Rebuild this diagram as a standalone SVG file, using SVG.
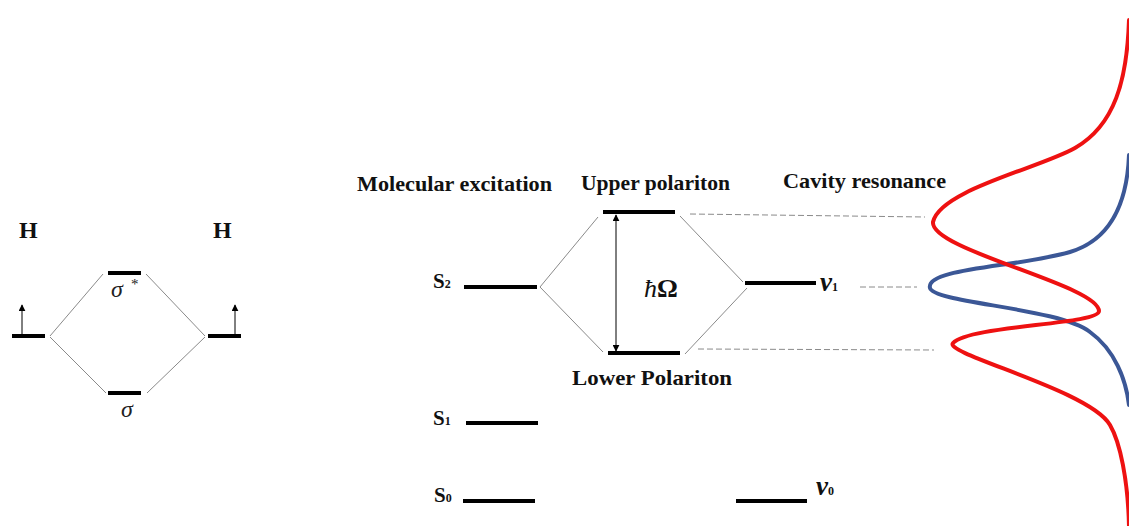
<svg xmlns="http://www.w3.org/2000/svg" width="1129" height="526" viewBox="0 0 1129 526">
<defs>
<marker id="ah" viewBox="0 0 10 10" refX="9" refY="5" markerWidth="7" markerHeight="7" orient="auto-start-reverse" markerUnits="userSpaceOnUse">
<path d="M0,0 L10,5 L0,10 z" fill="#000"/>
</marker>
<style>
.lvl{stroke:#000;stroke-width:4;fill:none}
.con{stroke:#8a8a8a;stroke-width:1;fill:none}
.dash{stroke:#8a8a8a;stroke-width:1;stroke-dasharray:6,3;fill:none}
.arr{stroke:#000;stroke-width:1;fill:none}
.t{font-family:"Liberation Serif","Times New Roman",serif;font-weight:bold;font-size:21px;fill:#111}
.sub{font-family:"Liberation Serif","Times New Roman",serif;font-weight:bold;font-size:12px;fill:#111}
.gr{font-family:"Liberation Serif","DejaVu Serif",serif;font-style:italic;font-size:24px;fill:#222}
.nu{font-family:"Liberation Serif","DejaVu Serif",serif;font-style:italic;font-weight:bold;font-size:27px;fill:#111}
.curve{fill:none;stroke-width:4;stroke-linecap:round;stroke-linejoin:round}
</style>
</defs>
<rect width="1129" height="526" fill="#fff"/>

<g id="connectors">
<line class="con" x1="50" y1="336" x2="103" y2="274"/>
<line class="con" x1="50" y1="337" x2="106" y2="393"/>
<line class="con" x1="146" y1="274" x2="205" y2="336"/>
<line class="con" x1="147" y1="393" x2="205" y2="337"/>
<line class="con" x1="540" y1="287" x2="598" y2="217"/>
<line class="con" x1="540" y1="287" x2="603" y2="352"/>
<line class="con" x1="680" y1="216" x2="743" y2="282"/>
<line class="con" x1="685" y1="354" x2="747" y2="288"/>
<line class="dash" x1="690" y1="214" x2="925" y2="217"/>
<line class="dash" x1="860" y1="287" x2="917" y2="287"/>
<line class="dash" x1="698" y1="349" x2="934" y2="350"/>
<line class="arr" x1="22" y1="334" x2="22" y2="305" marker-end="url(#ah)"/>
<line class="arr" x1="235" y1="334" x2="235" y2="305" marker-end="url(#ah)"/>
<line class="arr" x1="616" y1="215" x2="616" y2="351" marker-start="url(#ah)" marker-end="url(#ah)"/>
</g>

<g id="H-left">
<text class="t" x="19" y="238" style="font-size:24px">H</text>
<line class="lvl" x1="12" y1="336" x2="45" y2="336"/>
</g>
<g id="H-right">
<text class="t" x="213" y="238" style="font-size:24px">H</text>
<line class="lvl" x1="208" y1="336" x2="241" y2="336"/>
</g>
<g id="sigma-star">
<line class="lvl" x1="108" y1="273" x2="141" y2="273"/>
<text class="gr" x="111" y="297">σ</text>
<text x="131" y="289" style="font-family:'Liberation Serif',serif;font-size:15px;fill:#222">*</text>
</g>
<g id="sigma">
<line class="lvl" x1="108" y1="393" x2="141" y2="393"/>
<text class="gr" x="121" y="417">σ</text>
</g>

<g id="S2">
<text class="t" x="433" y="288">S<tspan class="sub">2</tspan></text>
<line class="lvl" x1="464" y1="287" x2="537" y2="287"/>
</g>
<g id="S1">
<text class="t" x="433" y="425">S<tspan class="sub">1</tspan></text>
<line class="lvl" x1="466" y1="423" x2="538" y2="423"/>
</g>
<g id="S0">
<text class="t" x="434" y="502">S<tspan class="sub">0</tspan></text>
<line class="lvl" x1="463" y1="501" x2="535" y2="501"/>
</g>
<g id="molecular-excitation">
<text class="t" x="357" y="191" textLength="195" lengthAdjust="spacingAndGlyphs">Molecular excitation</text>
</g>
<g id="upper-polariton">
<text class="t" x="581" y="190" textLength="149" lengthAdjust="spacingAndGlyphs">Upper polariton</text>
<line class="lvl" x1="603" y1="212" x2="675" y2="212"/>
</g>
<g id="lower-polariton">
<line class="lvl" x1="608" y1="353" x2="680" y2="353"/>
<text class="t" x="572" y="385" textLength="160" lengthAdjust="spacingAndGlyphs">Lower Polariton</text>
</g>
<g id="rabi">
<text x="644" y="297" style="font-family:'Liberation Serif','DejaVu Serif',serif;font-size:26px;fill:#111"><tspan font-style="italic">ħ</tspan><tspan font-weight="bold">Ω</tspan></text>
</g>
<g id="nu1">
<line class="lvl" x1="745" y1="283" x2="816" y2="283"/>
<text class="nu" x="820" y="291">ν<tspan class="sub" style="font-style:normal">1</tspan></text>
</g>
<g id="nu0">
<line class="lvl" x1="736" y1="501" x2="807" y2="501"/>
<text class="nu" x="816" y="495">ν<tspan class="sub" style="font-style:normal">0</tspan></text>
</g>
<g id="cavity-resonance">
<text class="t" x="783" y="188" textLength="163" lengthAdjust="spacingAndGlyphs">Cavity resonance</text>
</g>

<g id="spectra">
<path class="curve" stroke="#3b5796" d="M1129,155 C1127,205 1110,240 1070,252 C1020,267 925,268 930,288 C934,303 1060,308 1090,332 C1115,350 1126,380 1129,405"/>
<path class="curve" stroke="#ee1111" d="M1129,20 C1127,80 1115,125 1075,148 C1040,168 940,190 933,222 C930,250 1098,285 1099,311 C1099,325 970,325 953,343 C943,354 1090,390 1110,425 C1120,442 1128,480 1129,526"/>
</g>
</svg>
